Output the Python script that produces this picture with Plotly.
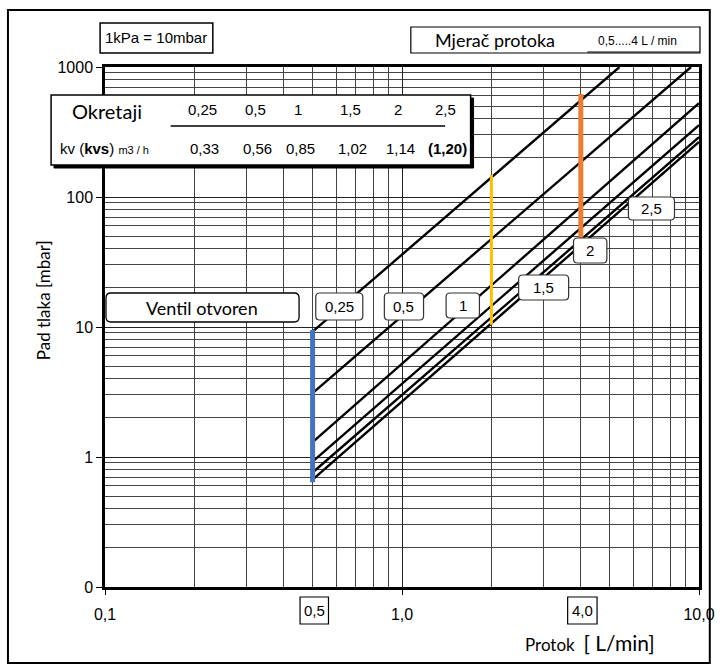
import plotly.graph_objects as go

# ---------------- data ----------------
turns = ["0,25", "0,5", "1", "1,5", "2", "2,5"]
kv_labels = ["0,33", "0,56", "0,85", "1,02", "1,14", "(1,20)"]

curve_q_start = [0.5, 0.5, 0.5, 0.5, 0.5, 0.5]
curve_dp_start = [9.2, 3.1, 1.3, 0.92, 0.76, 0.67]
curve_q_end = [5.4, 9.4, 10.0, 10.0, 10.0, 10.0]
curve_dp_end = [1000, 1000, 527, 357, 288, 265]

blue_q = [0.5, 0.5]
blue_dp = [0.64, 9.5]
yellow_q = [2.0, 2.0]
yellow_dp = [10.4, 148]
orange_q = [4.0, 4.0]
orange_dp = [44, 620]

x_major_vals = [0.1, 1.0, 10.0]
x_major_text = ["0,1", "1,0", "10,0"]
y_major_vals = [0.1, 1, 10, 100, 1000]
y_major_text = ["0", "1", "10", "100", "1000"]

# ---------------- layout geometry (pixels) ----------------
W, H = 727, 665
L, R, T, B = 105, 711, 67, 587


def px(x):
    return (x - L) / (R - L)


def py(y):
    return (B - y) / (B - T)


def rrect(x0, y0, x1, y1, r=5):
    pts = [
        ("M", x0 + r, y0), ("L", x1 - r, y0), ("Q", x1, y0, x1, y0 + r),
        ("L", x1, y1 - r), ("Q", x1, y1, x1 - r, y1), ("L", x0 + r, y1),
        ("Q", x0, y1, x0, y1 - r), ("L", x0, y0 + r), ("Q", x0, y0, x0 + r, y0),
    ]
    s = ""
    for p in pts:
        cmd = p[0]
        coords = p[1:]
        parts = []
        for i in range(0, len(coords), 2):
            parts.append(f"{px(coords[i]):.5f},{py(coords[i+1]):.5f}")
        s += cmd + " " + " ".join(parts) + " "
    return s + "Z"


def label(x, y, text, size, family, **kw):
    d = dict(xref="paper", yref="paper", x=px(x), y=py(y), text=text,
             showarrow=False, xanchor="center", yanchor="middle",
             font=dict(family=family, size=size, color="black"))
    d.update(kw)
    return d


fig = go.Figure()

for i in range(len(curve_q_start)):
    fig.add_trace(go.Scatter(
        x=[curve_q_start[i], curve_q_end[i]],
        y=[curve_dp_start[i], curve_dp_end[i]],
        mode="lines", line=dict(color="black", width=2.4),
        showlegend=False, hoverinfo="skip"))

fig.add_trace(go.Scatter(x=blue_q, y=blue_dp, mode="lines",
                         line=dict(color="#4472C4", width=5), showlegend=False))
fig.add_trace(go.Scatter(x=yellow_q, y=yellow_dp, mode="lines",
                         line=dict(color="#FFC000", width=3), showlegend=False))
fig.add_trace(go.Scatter(x=orange_q, y=orange_dp, mode="lines",
                         line=dict(color="#ED7D31", width=5), showlegend=False))

minor_x = [m * 10 ** e for e in (-1, 0) for m in range(2, 10)]
minor_y = [m * 10 ** e for e in (-1, 0, 1, 2) for m in range(2, 10)]

num_font = "Liberation Sans Narrow, Liberation Sans, Arial"
txt_font = "Lato, Noto Sans, Arial"

fig.update_xaxes(
    type="log", range=[-1, 1], tickmode="array", tickvals=x_major_vals,
    ticktext=x_major_text, ticks="outside", ticklen=5, tickcolor="black",
    ticklabelstandoff=6,
    tickfont=dict(family=num_font, size=16, color="black"),
    showline=True, linecolor="black", linewidth=2.5, mirror=True,
    showgrid=True, gridcolor="#222", gridwidth=1.2, zeroline=False,
    minor=dict(tickvals=minor_x, showgrid=True, gridcolor="#444",
               gridwidth=1, ticks=""),
)
fig.update_yaxes(
    type="log", range=[-1, 3], tickmode="array", tickvals=y_major_vals,
    ticktext=y_major_text, ticks="outside", ticklen=6, tickcolor="black",
    tickfont=dict(family=num_font, size=16, color="black"),
    showline=True, linecolor="black", linewidth=2.5, mirror=True,
    showgrid=True, gridcolor="#222", gridwidth=1.2, zeroline=False,
    minor=dict(tickvals=minor_y, showgrid=True, gridcolor="#444",
               gridwidth=1, ticks=""),
)

shapes = []
annotations = []

# outer border
shapes.append(dict(type="rect", xref="paper", yref="paper",
                   x0=px(6), y0=py(10), x1=px(722), y1=py(663),
                   line=dict(color="black", width=2), fillcolor="rgba(0,0,0,0)",
                   layer="above"))

# 1kPa box
shapes.append(dict(type="rect", xref="paper", yref="paper",
                   x0=px(100), y0=py(23), x1=px(215), y1=py(53),
                   line=dict(color="black", width=1.5), fillcolor="white"))
annotations.append(label(157.5, 38, "1kPa = 10mbar", 15, num_font))

# Mjerač protoka box
shapes.append(dict(type="rect", xref="paper", yref="paper",
                   x0=px(417), y0=py(27), x1=px(712), y1=py(53),
                   line=dict(color="black", width=1.2), fillcolor="white"))
annotations.append(label(503, 40, "Mjerač protoka", 18, txt_font))
annotations.append(label(648, 41, "0,5.....4 L / min", 12, num_font))
shapes.append(dict(type="line", xref="paper", yref="paper",
                   x0=px(597), y0=py(52), x1=px(712), y1=py(52),
                   line=dict(color="black", width=1)))

# table box with shadow
shapes.append(dict(type="rect", xref="paper", yref="paper",
                   x0=px(53), y0=py(98), x1=px(481), y1=py(168),
                   line=dict(color="black", width=1), fillcolor="black",
                   layer="above"))
shapes.append(dict(type="rect", xref="paper", yref="paper",
                   x0=px(50), y0=py(95), x1=px(478), y1=py(165),
                   line=dict(color="black", width=1.5), fillcolor="white",
                   layer="above"))
shapes.append(dict(type="line", xref="paper", yref="paper",
                   x0=px(172), y0=py(126), x1=px(452), y1=py(126),
                   line=dict(color="black", width=1.5), layer="above"))
annotations.append(label(107, 111, "Okretaji", 20, txt_font))
annotations.append(label(104, 148,
                         "kv (<b>kvs</b>) <span style='font-size:11px'>m3 / h</span>",
                         15, num_font))
col_x = [204, 259, 302, 355, 404, 452]
for i in range(len(turns)):
    annotations.append(label(col_x[i], 109, turns[i], 15, num_font))
    t = kv_labels[i]
    if i == len(turns) - 1:
        t = "<b>" + t + "</b>"
    annotations.append(label(col_x[i] + 2, 148, t, 15, num_font))

# Ventil otvoren
shapes.append(dict(type="path", xref="paper", yref="paper",
                   path=rrect(106, 293, 303, 322, 5),
                   line=dict(color="black", width=1.3), fillcolor="white",
                   layer="above"))
annotations.append(label(204, 308, "Ventil otvoren", 18, txt_font))

# curve label boxes
label_boxes = [
    (320, 293, 368, 320),
    (390, 293, 430, 320),
    (453, 293, 487, 318),
    (527, 275, 578, 300),
    (583, 238, 617, 263),
    (639, 197, 686, 220),
]
for i, (x0, y0, x1, y1) in enumerate(label_boxes):
    shapes.append(dict(type="path", xref="paper", yref="paper",
                       path=rrect(x0, y0, x1, y1, 4),
                       line=dict(color="#333", width=1.2), fillcolor="white",
                       layer="above"))
    annotations.append(label((x0 + x1) / 2, (y0 + y1) / 2, turns[i], 15, num_font))

# boxed x values 0,5 and 4,0
for (x0, x1, lab) in [(304, 333, "0,5"), (577, 607, "4,0")]:
    shapes.append(dict(type="rect", xref="paper", yref="paper",
                       x0=px(x0), y0=py(597), x1=px(x1), y1=py(624),
                       line=dict(color="black", width=1.2), fillcolor="white"))
    annotations.append(label((x0 + x1) / 2, 610, lab, 15, num_font))

# axis titles
annotations.append(label(42, 300, "Pad tlaka [mbar]", 17, txt_font, textangle=-90))
annotations.append(label(600, 642,
                         "Protok  <span style='font-size:21px'>[ L/min]</span>",
                         17, txt_font))

fig.update_layout(
    width=W, height=H, autosize=False,
    margin=dict(l=L, r=W - R, t=T, b=H - B, pad=0),
    plot_bgcolor="white", paper_bgcolor="white",
    shapes=shapes, annotations=annotations, showlegend=False,
)

fig.write_html("out.html",
               config={"displayModeBar": False, "responsive": False},
               post_script="document.body.style.margin='0';"
                           "document.body.style.overflow='hidden';")
